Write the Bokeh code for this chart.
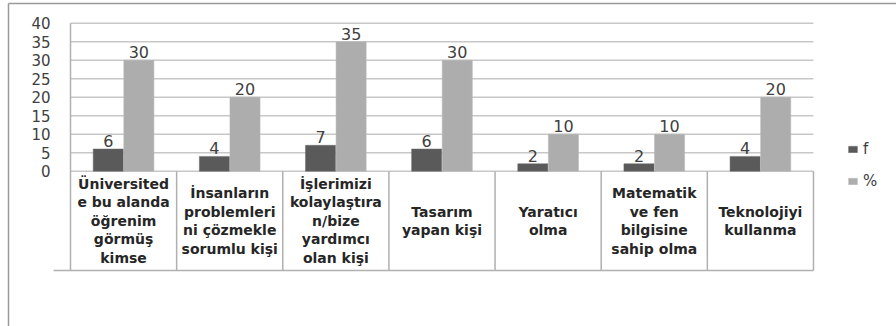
from bokeh.plotting import figure
from bokeh.models import ColumnDataSource, Range1d, Legend, LegendItem
from bokeh.core.properties import value
from bokeh.embed import file_html
from bokeh.resources import INLINE

# ---------------- data ----------------
category_lines = [
    ["Üniversited", "e bu alanda", "öğrenim", "görmüş", "kimse"],
    ["İnsanların", "problemleri", "ni çözmekle", "sorumlu kişi"],
    ["İşlerimizi", "kolaylaştıra", "n/bize", "yardımcı", "olan kişi"],
    ["Tasarım", "yapan kişi"],
    ["Yaratıcı", "olma"],
    ["Matematik", "ve fen", "bilgisine", "sahip olma"],
    ["Teknolojiyi", "kullanma"],
]
f_values = [6, 4, 7, 6, 2, 2, 4]
pct_values = [30, 20, 35, 30, 10, 10, 20]
series_names = ["f", "%"]
y_ticks = [0, 5, 10, 15, 20, 25, 30, 35, 40]

# ---------------- layout constants (pixels) ----------------
W, H = 896, 326
X0 = 70.0          # left edge of the plot area
CAT_W = 106.14     # width of one category
Y0 = 170.7         # pixel row of value 0
PPU = 3.7          # pixels per value unit
LINE_H = 18.6      # line spacing in the category table
TABLE_BOTTOM_PX = 270.0
FONT = "DejaVu Sans"


def px2x(px):
    return (px - X0) / CAT_W


def px2y(py):
    return (Y0 - py) / PPU


n = len(f_values)
BAR_W = 0.284
DODGE = 0.144

p = figure(width=W, height=H, output_backend="svg", toolbar_location=None,
           x_range=Range1d(px2x(0), px2x(W)), y_range=Range1d(px2y(H), px2y(0)),
           x_axis_type=None, y_axis_type=None, min_border=0,
           outline_line_color=None, background_fill_color="white",
           border_fill_color="white")

# outer frame (top and left border)
p.segment(x0=[px2x(8), px2x(8)], y0=[px2y(3), px2y(3)],
          x1=[px2x(W), px2x(8)], y1=[px2y(3), px2y(H)],
          line_color="#9a9a9a", line_width=1.5)

# horizontal gridlines
p.segment(x0=[0] * len(y_ticks), x1=[n] * len(y_ticks), y0=y_ticks, y1=y_ticks,
          line_color="#c8c8c8", line_width=1.5)

# category table lines
tb = px2y(TABLE_BOTTOM_PX)
p.segment(x0=[0], x1=[0], y0=[max(y_ticks)], y1=[tb], line_color="#b0b0b0", line_width=1.5)
p.segment(x0=list(range(1, n + 1)), x1=list(range(1, n + 1)), y0=[0] * n, y1=[tb] * n,
          line_color="#b0b0b0", line_width=1.5)
p.segment(x0=[px2x(53)], x1=[n], y0=[tb], y1=[tb], line_color="#b0b0b0", line_width=1.5)

# bars
centers = [i + 0.5 for i in range(n)]
src = ColumnDataSource(dict(
    xf=[c - DODGE for c in centers], xp=[c + DODGE for c in centers],
    f=f_values, pct=pct_values,
    ft=[str(v) for v in f_values], pt=[str(v) for v in pct_values],
))
r_f = p.vbar(x="xf", top="f", bottom=0, width=BAR_W, source=src,
             fill_color="#5a5a5a", line_color="#6a6a6a", line_width=0.5)
r_p = p.vbar(x="xp", top="pct", bottom=0, width=BAR_W, source=src,
             fill_color="#adadad", line_color="#b8b8b8", line_width=0.5)

# value labels
for xcol, ycol, tcol in (("xf", "f", "ft"), ("xp", "pct", "pt")):
    p.text(x=xcol, y=ycol, text=tcol, source=src, y_offset=-2,
           text_align="center", text_baseline="bottom",
           text_font=value(FONT), text_font_size="16px", text_color="#404040")

# y tick labels
p.text(x=[px2x(50)] * len(y_ticks), y=y_ticks, text=[str(t) for t in y_ticks],
       text_align="right", text_baseline="middle",
       text_font=value(FONT), text_font_size="15px", text_color="#404040")

# category table text
cell_mid = px2y((Y0 + TABLE_BOTTOM_PX) / 2)
tx, ty, tt = [], [], []
for i, lines in enumerate(category_lines):
    k = len(lines)
    for j, line in enumerate(lines):
        tx.append(i + 0.5)
        ty.append(cell_mid + ((k - 1) / 2 - j) * LINE_H / PPU)
        tt.append(line)
p.text(x=tx, y=ty, text=tt, text_align="center", text_baseline="middle",
       text_font=value(FONT), text_font_size="14px", text_font_style="bold",
       text_color="#262626")

# legend
legend = Legend(items=[LegendItem(label=series_names[0], renderers=[r_f]),
                       LegendItem(label=series_names[1], renderers=[r_p])],
                location=(847, 136), orientation="vertical",
                glyph_width=11, glyph_height=8, label_standoff=5, spacing=14,
                padding=0, margin=0, border_line_color=None,
                background_fill_alpha=0, label_text_font=FONT,
                label_text_font_size="15px", label_text_color="#404040")
p.add_layout(legend)

open("out.html", "w").write(file_html(p, INLINE))
